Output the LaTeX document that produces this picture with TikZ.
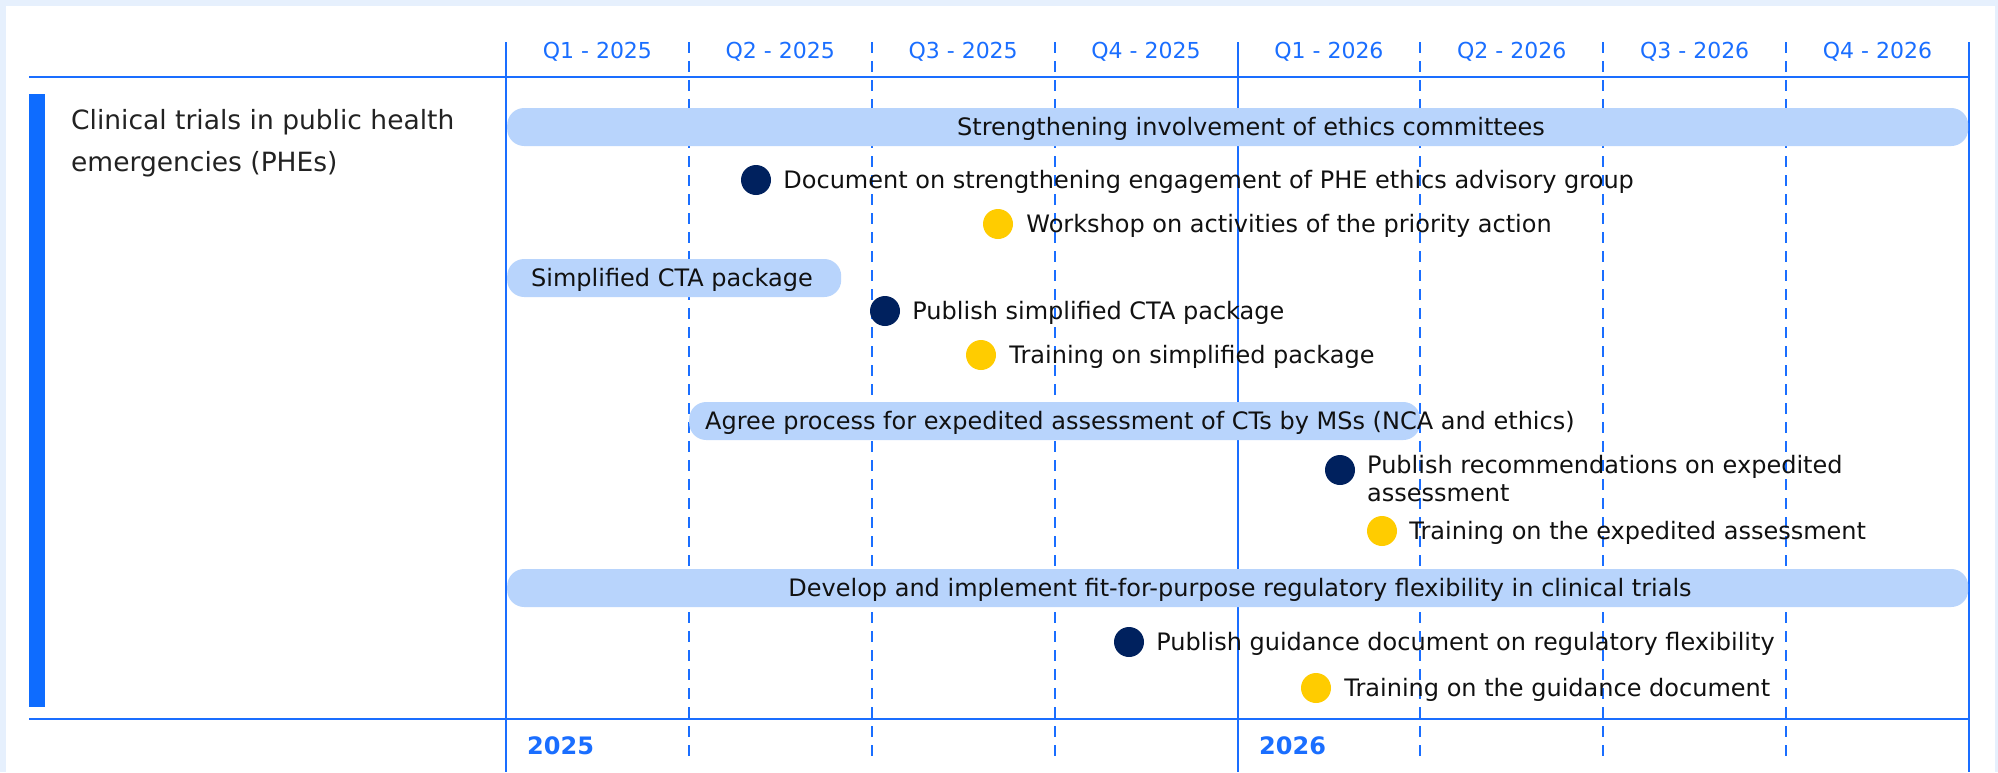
\documentclass[tikz,border=0pt]{standalone}
\usepackage{fontspec}
\setmainfont{DejaVu Sans}
\definecolor{bgblue}{RGB}{230,240,253}
\definecolor{lineblue}{RGB}{26,110,255}
\definecolor{barblue}{RGB}{14,108,255}
\definecolor{barlight}{RGB}{184,212,252}
\definecolor{navy}{RGB}{0,33,94}
\definecolor{amber}{RGB}{255,204,0}
\definecolor{txt}{RGB}{17,17,17}
\definecolor{titletxt}{RGB}{34,34,34}
\tikzset{
  gridsolid/.style={draw=lineblue, line width=2pt},
  griddash/.style={draw=lineblue, line width=2pt, dash pattern=on 11pt off 8pt},
  phasebar/.style={rectangle, rounded corners=17pt, fill=barlight, minimum height=38pt, inner sep=0pt, anchor=west},
  lbl/.style={inner sep=0pt, font=\fontsize{24}{28}\selectfont, text height=17.5pt, text depth=0pt, text=txt},
  qlbl/.style={inner sep=0pt, font=\fontsize{22}{26}\selectfont, text height=16pt, text depth=0pt, text=lineblue},
  yearlbl/.style={inner sep=0pt, font=\fontsize{24}{28}\selectfont\bfseries, text=lineblue, anchor=base west},
  titlelbl/.style={inner sep=0pt, font=\fontsize{26.5}{42}\selectfont, text=titletxt, anchor=base west},
  ms/.style={circle, minimum size=30pt, inner sep=0pt},
  navyms/.style={ms, fill=navy},
  amberms/.style={ms, fill=amber},
  mstext/.style={lbl, anchor=west}
}
\begin{document}
\begin{tikzpicture}[x=1pt,y=-1pt]
\useasboundingbox (0,0) rectangle (1998,772);
\fill[bgblue] (0,0) rectangle (1998,772);
\fill[white] (6,6) rectangle (1995,772);
% grid
\foreach \i in {1,2,3,5,6,7}
  \draw[griddash] ({506+182.875*\i},42) -- ({506+182.875*\i},763);
\foreach \i in {0,4,8}
  \draw[gridsolid] ({506+182.875*\i},42) -- ({506+182.875*\i},772);
\draw[gridsolid] (29,77) -- (1969,77);
\draw[gridsolid] (29,719) -- (1969,719);
% quarter labels
\foreach \q/\yr [count=\i from 0] in {Q1/2025,Q2/2025,Q3/2025,Q4/2025,Q1/2026,Q2/2026,Q3/2026,Q4/2026}
  \node[qlbl] (q\i) at ({597.4+182.875*\i},50) {\q{} - \yr};
% year labels
\node[yearlbl] (y2025) at (527,754) {2025};
\node[yearlbl] (y2026) at (1259,754) {2026};
% left bar and title
\fill[barblue] (29,94) rectangle (45,707);
\node[titlelbl] (titleA) at (71,129.3) {Clinical trials in public health};
\node[titlelbl] (titleB) at (71,171.3) {emergencies (PHEs)};
% phase bars
\node[phasebar, minimum width=1461pt] (b1) at (507,127) {};
\node[lbl] (b1t) at (1251,127) {Strengthening involvement of ethics committees};
\node[phasebar, minimum width=334pt] (b2) at (507,278) {};
\node[lbl, anchor=west] (b2t) at (531,278) {Simplified CTA package};
\node[phasebar, minimum width=731pt] (b3) at (689,421) {};
\node[lbl, anchor=west] (b3t) at (705,421) {Agree process for expedited assessment of CTs by MSs (NCA and ethics)};
\node[phasebar, minimum width=1461pt] (b4) at (507,588) {};
\node[lbl] (b4t) at (1240,588) {Develop and implement fit-for-purpose regulatory flexibility in clinical trials};
% milestones
\node[navyms] (m1) at (756,180) {};
\node[mstext] (m1t) at ([xshift=12pt]m1.east) {Document on strengthening engagement of PHE ethics advisory group};
\node[amberms] (m2) at (998,224) {};
\node[mstext] (m2t) at ([xshift=13pt]m2.east) {Workshop on activities of the priority action};
\node[navyms] (m3) at (885,311) {};
\node[mstext] (m3t) at ([xshift=12pt]m3.east) {Publish simplified CTA package};
\node[amberms] (m4) at (981,355) {};
\node[mstext] (m4t) at ([xshift=13pt]m4.east) {Training on simplified package};
\node[navyms] (m5) at (1340,470) {};
\node[lbl, anchor=base west] (m5a) at (1367,473) {Publish recommendations on expedited};
\node[lbl, anchor=base west] (m5b) at (1367,501) {assessment};
\node[amberms] (m6) at (1382,531) {};
\node[mstext] (m6t) at ([xshift=12pt]m6.east) {Training on the expedited assessment};
\node[navyms] (m7) at (1129,642) {};
\node[mstext] (m7t) at ([xshift=12pt]m7.east) {Publish guidance document on regulatory flexibility};
\node[amberms] (m8) at (1316,688) {};
\node[mstext] (m8t) at ([xshift=13pt]m8.east) {Training on the guidance document};
\end{tikzpicture}
\end{document}
